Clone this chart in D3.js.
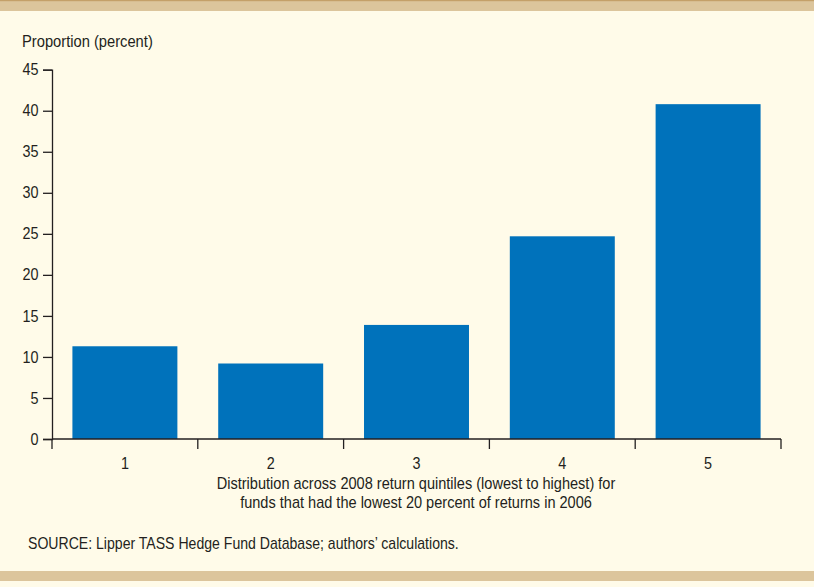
<!DOCTYPE html>
<html>
<head>
<meta charset="utf-8">
<script src="https://cdn.jsdelivr.net/npm/d3@7"></script>
<style>
  html, body { margin: 0; padding: 0; background: #fffbe9; }
  svg { display: block; }
  .t { font-family: "Liberation Sans", Arial, sans-serif; fill: #231f20; font-size: 16px; }
</style>
</head>
<body>
<script>
// Quintile categories and proportion of funds (percent) falling in each
const quintiles = ["1", "2", "3", "4", "5"];
const proportions = [11.3, 9.2, 13.9, 24.7, 40.8];
const yTicks = [0, 5, 10, 15, 20, 25, 30, 35, 40, 45];

const W = 814, H = 587;
const NARROW = 0.9; // horizontal squeeze giving a condensed face
const svg = d3.select("body").append("svg").attr("width", W).attr("height", H);

// page background and tan rules at top and bottom
svg.append("rect").attr("width", W).attr("height", H).attr("fill", "#fffbe9");
svg.append("rect").attr("x", 0).attr("y", 0).attr("width", W).attr("height", 11).attr("fill", "#dcc59c");
svg.append("rect").attr("x", 0).attr("y", 0).attr("width", W).attr("height", 1.2).attr("fill", "#c4a069");
svg.append("rect").attr("x", 0).attr("y", 571).attr("width", W).attr("height", 10).attr("fill", "#dcc59c");

const plotLeft = 52, plotRight = 781, plotTop = 69.7, plotBottom = 439;

const x = d3.scaleBand().domain(quintiles).range([plotLeft, plotRight]).paddingInner(0.28).paddingOuter(0.14);
const y = d3.scaleLinear().domain([0, 45]).range([plotBottom, plotTop]);

// condensed text placed at (px, py)
function label(px, py, str, anchor, squeeze) {
  return svg.append("text").attr("class", "t")
    .attr("transform", `translate(${px},${py}) scale(${squeeze || NARROW},1)`)
    .attr("text-anchor", anchor || "start")
    .text(str);
}

// bars
svg.append("g").selectAll("rect").data(proportions).join("rect")
  .attr("x", (d, i) => x(quintiles[i]))
  .attr("y", d => y(d))
  .attr("width", x.bandwidth())
  .attr("height", d => y(0) - y(d))
  .attr("fill", "#0072bb");

// y axis
const yAxis = svg.append("g").attr("transform", `translate(${plotLeft},0)`)
  .call(d3.axisLeft(y).tickValues(yTicks).tickSize(9).tickPadding(6));
yAxis.select(".domain").attr("stroke", "#231f20").attr("stroke-width", 1.3);
yAxis.selectAll(".tick line").attr("stroke", "#231f20").attr("stroke-width", 1.3);
yAxis.selectAll(".tick text").attr("class", "t").attr("fill", "#231f20")
  .attr("transform", `scale(${NARROW},1)`);
yAxis.attr("font-size", null).attr("font-family", null);

// x axis: boundary ticks between quintiles, labels centred under bars
const step = (plotRight - plotLeft) / quintiles.length;
const bounds = d3.range(quintiles.length + 1).map(i => plotLeft + i * step);
const xg = svg.append("g");
xg.append("line").attr("x1", plotLeft).attr("x2", plotRight).attr("y1", plotBottom).attr("y2", plotBottom)
  .attr("stroke", "#231f20").attr("stroke-width", 1.3);
xg.selectAll("line.b").data(bounds).join("line").attr("class", "b")
  .attr("x1", d => d).attr("x2", d => d).attr("y1", plotBottom).attr("y2", plotBottom + 10)
  .attr("stroke", "#231f20").attr("stroke-width", 1.3);
quintiles.forEach(q => label(x(q) + x.bandwidth() / 2, 469, q, "middle"));

// titles and source
label(22, 47, "Proportion (percent)", "start", 0.92);
label(416, 489, "Distribution across 2008 return quintiles (lowest to highest) for", "middle", 0.91);
label(416, 508, "funds that had the lowest 20 percent of returns in 2006", "middle", 0.91);
label(28, 549, "SOURCE: Lipper TASS Hedge Fund Database; authors’ calculations.", "start", 0.88);
</script>
</body>
</html>
